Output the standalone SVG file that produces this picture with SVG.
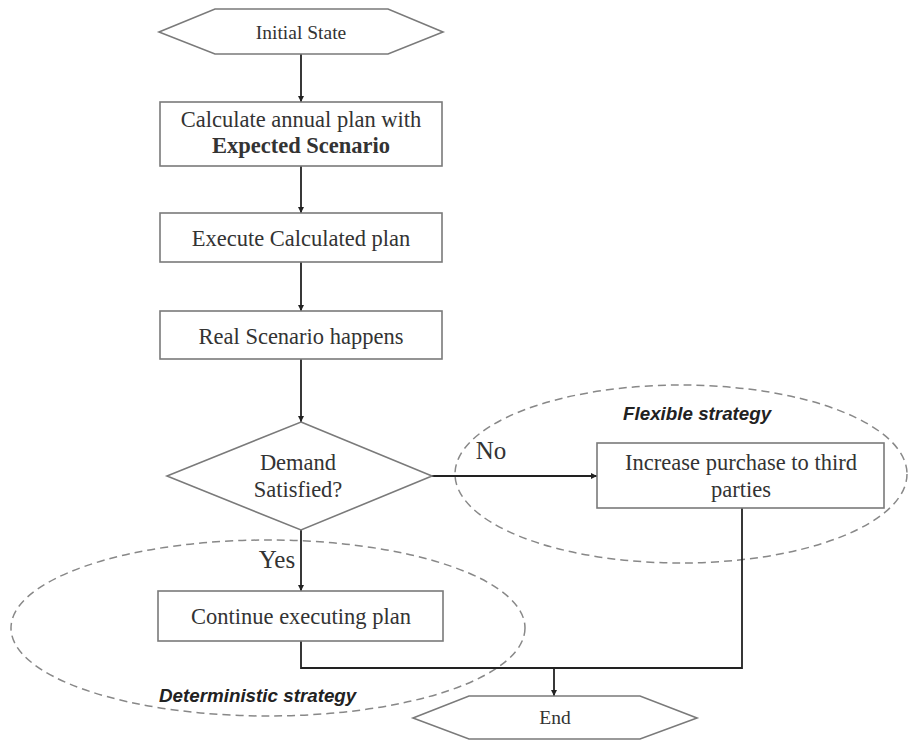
<svg xmlns="http://www.w3.org/2000/svg" width="908" height="742" viewBox="0 0 908 742">
<defs>
<style>
.shape{fill:#fff;stroke:#7a7a7a;stroke-width:1.6}
.conn{fill:none;stroke:#222;stroke-width:1.8}
.grp{fill:none;stroke:#888;stroke-width:1.5;stroke-dasharray:8 5}
.t{font-family:"Liberation Serif","Times New Roman",serif;font-size:22.5px;fill:#333;text-anchor:middle}
.s{font-size:19.5px}
.yn{font-size:25px}
.lab{font-family:"Liberation Sans",Arial,sans-serif;font-size:18.8px;font-weight:bold;font-style:italic;fill:#222}
</style>
<marker id="ah" viewBox="0 0 10 10" refX="10" refY="5" markerWidth="6" markerHeight="6" markerUnits="userSpaceOnUse" orient="auto">
<path d="M0,0 L10,5 L0,10 z" fill="#222"/>
</marker>
</defs>
<rect width="908" height="742" fill="#fff"/>
<g id="groups">
<ellipse class="grp" cx="681" cy="474" rx="226" ry="89"/>
<ellipse class="grp" cx="268" cy="628" rx="257" ry="88"/>
<text class="lab" x="623" y="420">Flexible strategy</text>
<text class="lab" x="159" y="702">Deterministic strategy</text>
</g>
<g id="connectors">
<line class="conn" x1="301" y1="54" x2="301" y2="102" marker-end="url(#ah)"/>
<line class="conn" x1="301" y1="166" x2="301" y2="213" marker-end="url(#ah)"/>
<line class="conn" x1="301" y1="262" x2="301" y2="311" marker-end="url(#ah)"/>
<line class="conn" x1="301" y1="359" x2="301" y2="422" marker-end="url(#ah)"/>
<line class="conn" x1="301" y1="530" x2="301" y2="591" marker-end="url(#ah)"/>
<line class="conn" x1="432" y1="476" x2="597" y2="476" marker-end="url(#ah)"/>
<polyline class="conn" points="301,641 301,668 742,668 742,508"/>
<line class="conn" x1="554" y1="668" x2="554" y2="696" marker-end="url(#ah)"/>
<text class="t yn" x="491" y="459">No</text>
<text class="t yn" x="277" y="568">Yes</text>
</g>
<g id="initial">
<polygon class="shape" points="159,32 215,9 388,9 443,32 388,54 215,54"/>
<text class="t s" x="301" y="39">Initial  State</text>
</g>
<g id="calc">
<rect class="shape" x="160" y="102" width="282" height="64"/>
<text class="t" x="301" y="127">Calculate annual plan with</text>
<text class="t" x="301" y="153" font-weight="bold">Expected Scenario</text>
</g>
<g id="execute">
<rect class="shape" x="160" y="213" width="282" height="49"/>
<text class="t" x="301" y="246">Execute Calculated plan</text>
</g>
<g id="real">
<rect class="shape" x="160" y="311" width="282" height="48"/>
<text class="t" x="301" y="344">Real Scenario  happens</text>
</g>
<g id="decision">
<polygon class="shape" points="301,422 432,476 301,530 167,476"/>
<text class="t" x="298" y="470">Demand</text>
<text class="t" x="298" y="497">Satisfied?</text>
</g>
<g id="increase">
<rect class="shape" x="597" y="443" width="287" height="65"/>
<text class="t" x="741" y="470">Increase  purchase to third</text>
<text class="t" x="741" y="497">parties</text>
</g>
<g id="continue">
<rect class="shape" x="158" y="591" width="285" height="50"/>
<text class="t" x="301" y="624">Continue executing plan</text>
</g>
<g id="end">
<polygon class="shape" points="413,718 469,696 640,696 697,718 640,739 469,739"/>
<text class="t s" x="555" y="724">End</text>
</g>
</svg>
